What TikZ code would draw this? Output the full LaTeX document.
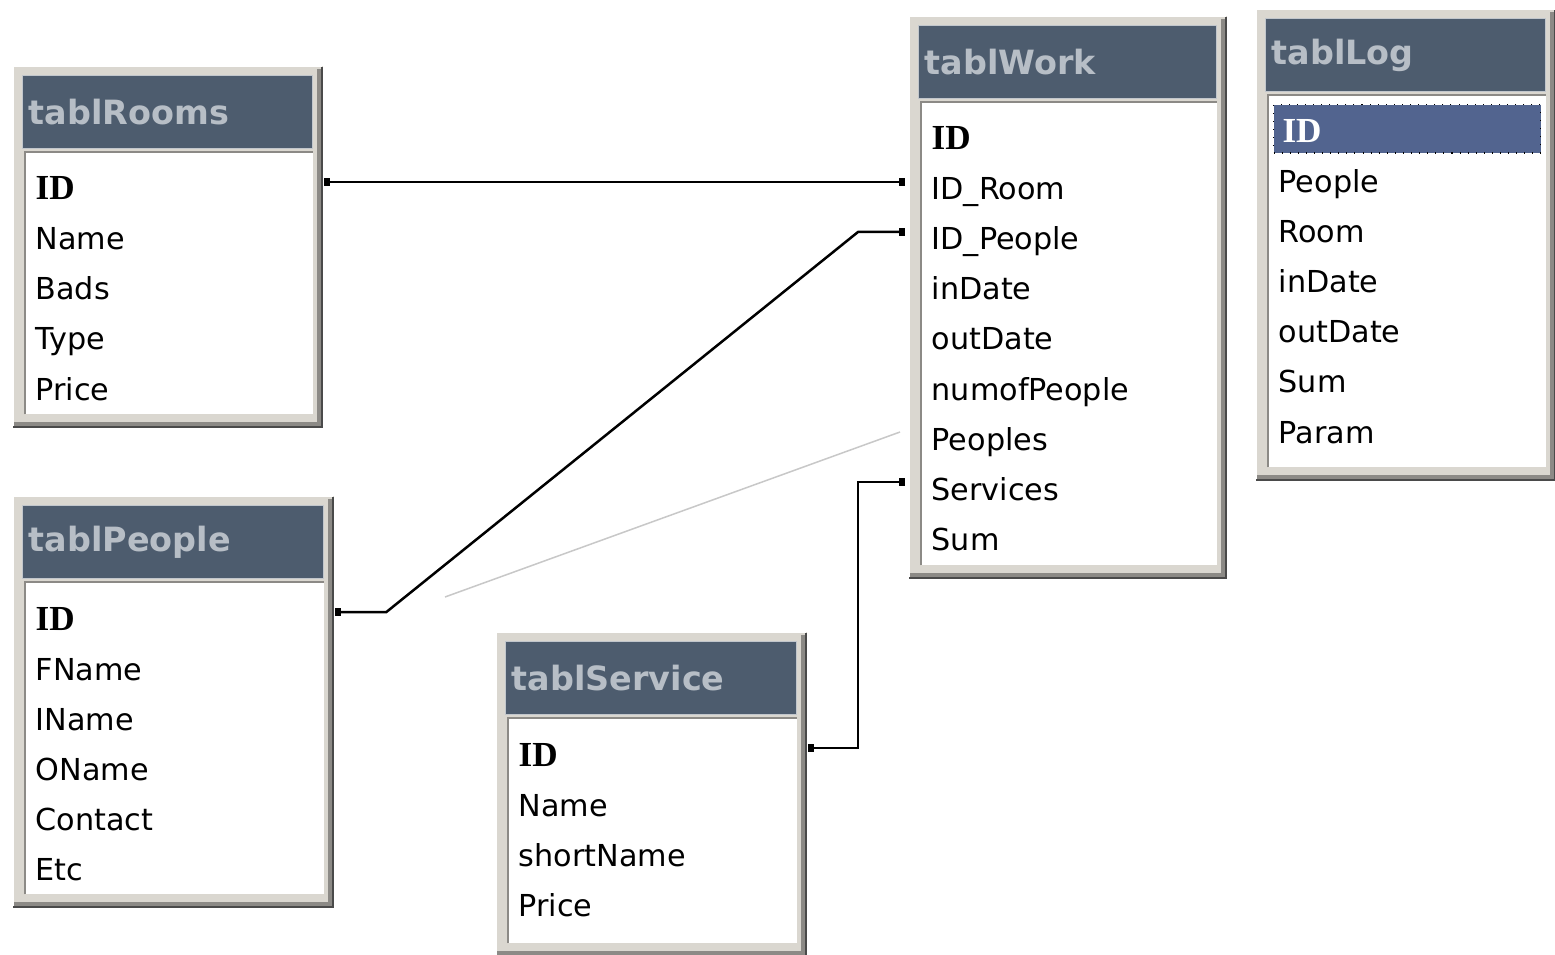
\documentclass[tikz,border=0pt]{standalone}
\usepackage{fontspec}
\newfontfamily\fieldfont{DejaVu Sans}
\newfontfamily\idfont{Liberation Serif}
\usetikzlibrary{calc,arrows.meta}
\definecolor{winface}{HTML}{DAD7D0}
\definecolor{winshade}{HTML}{8C8A86}
\definecolor{windark}{HTML}{4A4A4A}
\definecolor{headblue}{HTML}{4D5C6E}
\definecolor{headtext}{HTML}{B7BEC6}
\definecolor{selblue}{HTML}{52648F}
\definecolor{strayline}{HTML}{C8C8C8}

\tikzset{
  tablframe/.style={fill=winface, draw=none, inner sep=0pt, anchor=north west},
  bevellite/.style={white, line width=0.025cm},
  bevelshade/.style={winshade, line width=0.04cm},
  beveldark/.style={windark, line width=0.02cm},
  tablhead/.style={fill=headblue, draw=headblue!35!white, line width=0.01cm, inner sep=0pt, anchor=north west, minimum height=0.73cm},
  tabltitle/.style={anchor=west, inner sep=0pt, text=headtext, font=\fieldfont\bfseries\fontsize{9.5}{11}\selectfont},
  tablbody/.style={fill=white, draw=none, inner sep=0pt, anchor=north west},
  insetline/.style={winshade, line width=0.025cm},
  field/.style={anchor=base west, inner sep=0pt, font=\fieldfont\fontsize{8.6}{10}\selectfont},
  keyfield/.style={field, font=\idfont\bfseries\fontsize{10}{12}\selectfont},
  keysel/.style={keyfield, text=white, fill=selblue, draw=black, dotted, line width=0.3pt,
    xshift=-0.05cm, inner xsep=0.09cm, inner ysep=0.1cm, text width=2.49cm, text height=0.28cm, text depth=0cm},
  relation/.style={line width=0.025cm, {Square[length=0.06cm,width=0.08cm]}-{Square[length=0.06cm,width=0.08cm]}},
  loose/.style={strayline, line width=0.015cm},
}

\begin{document}
\begin{tikzpicture}[x=0.01cm, y=-0.01cm]
\fill[white] (0,0) rectangle (1555,955);
\useasboundingbox (0,0) rectangle (1555,955);

% tables: name/x/y/width/height/title/key style/fields
\foreach \tb/\x/\y/\w/\h/\tname/\key/\fields in {
    rooms/12/65/310/362/tablRooms/keyfield/{Name,Bads,Type,Price},
    work/908/15/318/563/tablWork/keyfield/{ID\_Room,ID\_People,inDate,outDate,numofPeople,Peoples,Services,Sum},
    log/1255/8/300/472/tablLog/keysel/{People,Room,inDate,outDate,Sum,Param},
    people/12/495/321/412/tablPeople/keyfield/{FName,IName,OName,Contact,Etc},
    service/495/631/311/325/tablService/keyfield/{Name,shortName,Price}}
{
  \pgfmathsetlengthmacro\fw{\w*0.01cm}
  \pgfmathsetlengthmacro\fh{\h*0.01cm}
  \pgfmathsetlengthmacro\hw{(\w-20)*0.01cm}
  \pgfmathsetlengthmacro\bw{(\w-23)*0.01cm}
  \pgfmathsetlengthmacro\bh{(\h-101)*0.01cm}
  % window frame
  \node[tablframe, minimum width=\fw, minimum height=\fh] (\tb) at (\x,\y) {};
  \draw[bevellite] ([shift={(1,-1)}]\tb.south west) -- ([shift={(1,1)}]\tb.north west) -- ([shift={(-1,1)}]\tb.north east);
  \draw[bevelshade] ([shift={(2,-4)}]\tb.south west) -- ([shift={(-4,-4)}]\tb.south east) -- ([shift={(-4,4)}]\tb.north east);
  \draw[beveldark] ([shift={(1,-1)}]\tb.south west) -- ([shift={(-1,-1)}]\tb.south east) -- ([shift={(-1,2)}]\tb.north east);
  % title bar
  \node[tablhead, minimum width=\hw] (\tb-head) at ([shift={(10,10)}]\tb.north west) {};
  \node[tabltitle] (\tb-title) at ([shift={(6,0)}]\tb-head.west) {\tname};
  % field list
  \node[tablbody, minimum width=\bw, minimum height=\bh] (\tb-body) at ([shift={(13,87)}]\tb.north west) {};
  \draw[insetline] (\tb-body.south west) -- (\tb-body.north west) -- (\tb-body.north east);
  \node[\key] (\tb-0) at ([shift={(23,135)}]\tb.north west) {ID};
  \foreach \f [count=\i] in \fields
    \node[field] (\tb-\i) at ([shift={(23,135+50*\i)}]\tb.north west) {\f};
}

% relations
\draw[relation] ($(rooms.east |- rooms-0.base)+(1,-18)$) -- ($(work.west |- work-1.base)+(-3,-18)$);
\draw[relation] ($(people.east |- people-0.base)+(1,-18)$) -- ++(51,0)
  -- ($(work.west |- work-2.base)+(-50,-18)$) -- ++(47,0);
\draw[relation] ($(service.east |- service-0.base)+(1,-18)$) -| ($(work.west |- work-7.base)+(-50,-18)$) -- ++(47,0);
\coordinate (stray) at (445,597);
\draw[loose] (stray) -- ($(work.west |- work-6.base)+(-8,-18)$);
\end{tikzpicture}
\end{document}
